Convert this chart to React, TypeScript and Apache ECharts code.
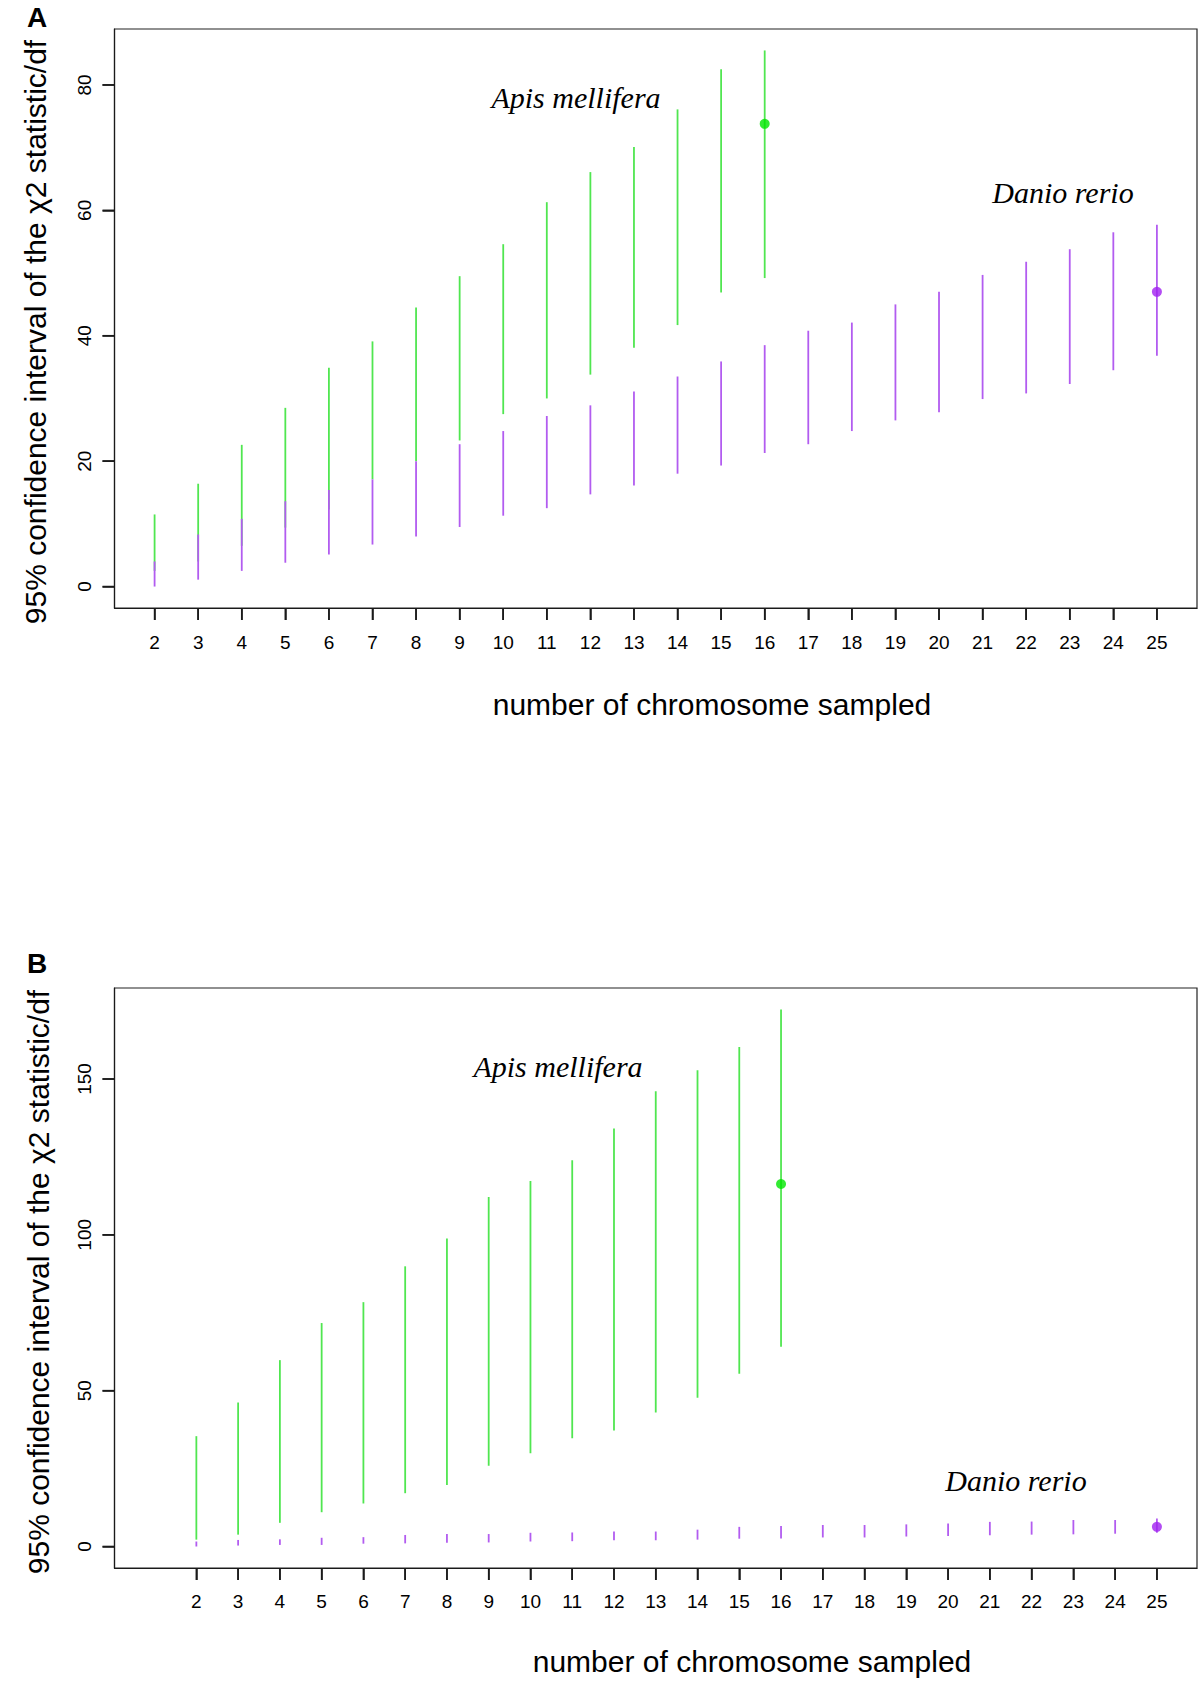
import React, { useEffect, useRef } from "react";
import * as echarts from "echarts";

// ---------- data ----------
const ticksX: number[] = [2, 3, 4, 5, 6, 7, 8, 9, 10, 11, 12, 13, 14, 15, 16, 17, 18, 19, 20, 21, 22, 23, 24, 25];
const apisN: number[] = [2, 3, 4, 5, 6, 7, 8, 9, 10, 11, 12, 13, 14, 15, 16];
const danioN: number[] = ticksX;

const ticksYA: number[] = [0, 20, 40, 60, 80];
const ticksYB: number[] = [0, 50, 100, 150];

// Panel A
const apisLowA: number[] = [2.5, 4.0, 6.5, 9.4, 12.3, 17.1, 20.0, 23.3, 27.5, 30.0, 33.8, 38.1, 41.7, 46.9, 49.2];
const apisHighA: number[] = [11.5, 16.4, 22.6, 28.5, 34.9, 39.1, 44.5, 49.5, 54.6, 61.3, 66.1, 70.1, 76.1, 82.5, 85.5];
const apisPointA: number[] = [16, 73.8];
const danioLowA: number[] = [0.0, 1.1, 2.5, 3.8, 5.1, 6.7, 8.0, 9.5, 11.3, 12.5, 14.7, 16.1, 18.0, 19.3, 21.3, 22.7, 24.8, 26.5, 27.8, 29.9, 30.8, 32.3, 34.5, 36.8];
const danioHighA: number[] = [4.0, 8.3, 10.8, 13.6, 15.4, 17.1, 20.0, 22.7, 24.8, 27.2, 28.9, 31.1, 33.5, 35.9, 38.5, 40.8, 42.1, 45.0, 47.0, 49.7, 51.8, 53.8, 56.5, 57.7];
const danioPointA: number[] = [25, 47.0];

// Panel B
const apisLowB: number[] = [2.2, 3.8, 7.6, 11.0, 13.8, 17.1, 19.7, 25.9, 29.9, 34.7, 37.2, 43.0, 47.7, 55.4, 64.1];
const apisHighB: number[] = [35.4, 46.2, 59.8, 71.7, 78.4, 89.9, 98.8, 112.1, 117.3, 123.9, 134.1, 146.1, 152.8, 160.3, 172.3];
const apisPointB: number[] = [16, 116.3];
const danioLowB: number[] = [0.0, 0.3, 0.5, 0.5, 0.9, 1.0, 1.2, 1.3, 1.6, 1.7, 2.0, 2.0, 2.2, 2.5, 2.6, 2.9, 2.9, 3.2, 3.4, 3.6, 3.8, 3.9, 4.1, 4.4];
const danioHighB: number[] = [1.6, 2.1, 2.3, 2.8, 3.0, 3.7, 4.0, 4.0, 4.4, 4.5, 4.8, 4.8, 5.4, 6.3, 6.6, 6.9, 6.9, 7.1, 7.4, 7.9, 8.0, 8.5, 8.5, 9.0];
const danioPointB: number[] = [25, 6.3];

const yTitle = "95% confidence interval of the \u03c72 statistic/df";
const xTitle = "number of chromosome sampled";

const GREEN_LINE = "#50e650";
const GREEN_DOT = "#00e600";
const PURPLE_LINE = "#b25cf0";
const PURPLE_DOT = "#a020f0";
const AXIS = "#1a1a1a";
const TICK_LEN = 12;

const SANS = "'Liberation Sans', Arial, Helvetica, sans-serif";
const SERIF = "'Liberation Serif', 'Times New Roman', serif";

const X_MIN_A = 1.08, X_MAX_A = 25.92, Y_MIN_A = -3.42, Y_MAX_A = 88.92;
const X_MIN_B = 0.04, X_MAX_B = 25.96, Y_MIN_B = -6.9, Y_MAX_B = 179.2;

function rows(ns: number[], lo: number[], hi: number[]) {
  return ns.map((n, i) => [n, lo[i], hi[i]]);
}

function barSeries(idx: number, data: number[][], color: string) {
  return {
    type: "custom",
    xAxisIndex: idx,
    yAxisIndex: idx,
    data,
    encode: { x: 0, y: [1, 2] },
    renderItem: (_p: any, api: any) => {
      const x = api.value(0);
      const a = api.coord([x, api.value(1)]);
      const b = api.coord([x, api.value(2)]);
      return {
        type: "line",
        shape: { x1: a[0], y1: a[1], x2: b[0], y2: b[1] },
        style: { stroke: color, lineWidth: 1.8 },
      };
    },
    z: 3,
  };
}

function dotSeries(idx: number, pt: number[], color: string) {
  return {
    type: "scatter",
    xAxisIndex: idx,
    yAxisIndex: idx,
    data: [pt],
    symbol: "circle",
    symbolSize: 10,
    itemStyle: { color },
    z: 5,
  };
}

function xAxisCfg(idx: number, min: number, max: number, margin: number) {
  return {
    type: "value",
    gridIndex: idx,
    position: "bottom",
    min,
    max,
    axisLine: { show: true, onZero: false, lineStyle: { color: AXIS, width: 1.2 } },
    splitLine: { show: false },
    axisTick: {
      show: true,
      inside: false,
      length: TICK_LEN,
      customValues: ticksX,
      lineStyle: { color: AXIS, width: 1.5 },
    },
    axisLabel: {
      show: true,
      customValues: ticksX,
      margin,
      fontSize: 19,
      fontFamily: SANS,
      color: "#000",
    },
  };
}

function yAxisCfg(idx: number, min: number, max: number, ticks: number[]) {
  return {
    type: "value",
    gridIndex: idx,
    position: "left",
    min,
    max,
    axisLine: { show: true, onZero: false, lineStyle: { color: AXIS, width: 1.2 } },
    splitLine: { show: false },
    axisTick: {
      show: true,
      inside: false,
      length: TICK_LEN,
      customValues: ticks,
      lineStyle: { color: AXIS, width: 1.5 },
    },
    axisLabel: {
      show: true,
      customValues: ticks,
      rotate: 90,
      margin: 21,
      fontSize: 19,
      fontFamily: SANS,
      color: "#000",
    },
  };
}

function txt(text: string, x: number, y: number, opts: any = {}) {
  return {
    type: "text",
    x,
    y,
    rotation: opts.rotation || 0,
    style: {
      text,
      x: 0,
      y: 0,
      fill: "#000",
      font: opts.font,
      align: "center",
      verticalAlign: "middle",
    },
    z: 10,
  };
}

export default function App() {
  const ref = useRef<HTMLDivElement>(null);

  useEffect(() => {
    if (!ref.current) return;
    const chart = echarts.init(ref.current, null, { renderer: "svg" });
    const gridBase = {
      show: true,
      borderColor: "#222",
      borderWidth: 1.2,
      backgroundColor: "transparent",
      containLabel: false,
    };
    const texts: any[] = [
      txt("A", 37, 17, { font: `bold 28px ${SANS}` }),
      txt("B", 37, 963, { font: `bold 28px ${SANS}` }),
      txt(yTitle, 35, 332, { font: `30px ${SANS}`, rotation: Math.PI / 2 }),
      txt(yTitle, 38, 1282, { font: `30px ${SANS}`, rotation: Math.PI / 2 }),
      txt(xTitle, 712, 704, { font: `30px ${SANS}` }),
      txt(xTitle, 752, 1661, { font: `30px ${SANS}` }),
      txt("Apis mellifera", 576, 97, { font: `italic 30px ${SERIF}` }),
      txt("Danio rerio", 1063, 192, { font: `italic 30px ${SERIF}` }),
      txt("Apis mellifera", 558, 1066, { font: `italic 30px ${SERIF}` }),
      txt("Danio rerio", 1016, 1480, { font: `italic 30px ${SERIF}` }),
    ];
    chart.setOption({
      animation: false,
      backgroundColor: "#fff",
      grid: [
        { ...gridBase, left: 114.5, top: 29, width: 1082.5, height: 579 },
        { ...gridBase, left: 114.5, top: 988, width: 1082.5, height: 580 },
      ],
      xAxis: [xAxisCfg(0, X_MIN_A, X_MAX_A, 25), xAxisCfg(1, X_MIN_B, X_MAX_B, 24)],
      yAxis: [yAxisCfg(0, Y_MIN_A, Y_MAX_A, ticksYA), yAxisCfg(1, Y_MIN_B, Y_MAX_B, ticksYB)],
      series: [
        barSeries(0, rows(apisN, apisLowA, apisHighA), GREEN_LINE),
        barSeries(0, rows(danioN, danioLowA, danioHighA), PURPLE_LINE),
        dotSeries(0, apisPointA, GREEN_DOT),
        dotSeries(0, danioPointA, PURPLE_DOT),
        barSeries(1, rows(apisN, apisLowB, apisHighB), GREEN_LINE),
        barSeries(1, rows(danioN, danioLowB, danioHighB), PURPLE_LINE),
        dotSeries(1, apisPointB, GREEN_DOT),
        dotSeries(1, danioPointB, PURPLE_DOT),
      ],
      graphic: texts,
    });

    // Extra tick marks as thin filled rects, placed through the axis scales
    const tickEls: any[] = [];
    try {
      const addTicks = (gi: number, xmin: number, ymin: number, ty: number[]) => {
        ticksX.forEach((t) => {
          const p = chart.convertToPixel({ gridIndex: gi }, [t, ymin]) as number[];
          if (!p) return;
          tickEls.push({
            type: "rect",
            shape: { x: p[0] - 0.8, y: p[1], width: 1.6, height: TICK_LEN },
            style: { fill: AXIS },
            z: 30,
          });
        });
        ty.forEach((t) => {
          const p = chart.convertToPixel({ gridIndex: gi }, [xmin, t]) as number[];
          if (!p) return;
          tickEls.push({
            type: "rect",
            shape: { x: p[0] - TICK_LEN, y: p[1] - 0.8, width: TICK_LEN, height: 1.6 },
            style: { fill: AXIS },
            z: 30,
          });
        });
      };
      addTicks(0, X_MIN_A, Y_MIN_A, ticksYA);
      addTicks(1, X_MIN_B, Y_MIN_B, ticksYB);
      if (tickEls.length) chart.setOption({ graphic: [...texts, ...tickEls] });
    } catch (e) {
      // keep the chart even if pixel conversion is unavailable
    }

    return () => chart.dispose();
  }, []);

  return (
    <div
      ref={ref}
      style={{ position: "absolute", left: 0, top: 0, width: 1200, height: 1693, background: "#fff" }}
    />
  );
}
